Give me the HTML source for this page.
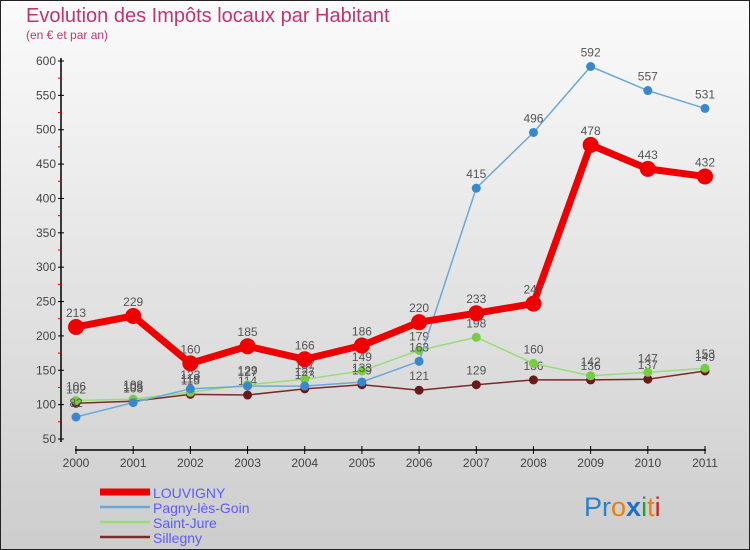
<!DOCTYPE html>
<html><head><meta charset="utf-8"><style>
body{margin:0}
svg{display:block;font-family:"Liberation Sans",sans-serif}
</style></head><body>
<svg id="c" width="750" height="550" xmlns="http://www.w3.org/2000/svg">
<defs><linearGradient id="bg" x1="0" y1="0" x2="0" y2="1"><stop offset="0" stop-color="#fbfbfb"/><stop offset="1" stop-color="#cdcdcd"/></linearGradient></defs>
<rect x="0.5" y="0.5" width="749" height="549" fill="url(#bg)" stroke="#222"/>
<text x="26" y="22" font-size="20" fill="#c2356a">Evolution des Impôts locaux par Habitant</text>
<text x="26" y="39" font-size="12" fill="#c2356a">(en € et par an)</text>
<g id="axes"></g><g id="series"></g><g id="legend"></g>
<text x="584" y="516" font-size="27"><tspan fill="#2a7fd0">Pr</tspan><tspan fill="#f07b10">o</tspan><tspan fill="#1a6fc8" font-weight="bold">x</tspan><tspan fill="#2a9a3a">i</tspan><tspan fill="#f07b10">t</tspan><tspan fill="#d02020">i</tspan></text>
</svg>
<script>
const years=[2000,2001,2002,2003,2004,2005,2006,2007,2008,2009,2010,2011];
const yTicks=[50,100,150,200,250,300,350,400,450,500,550,600];
const louvigny=[213,229,160,185,166,186,220,233,247,478,443,432];
const pagny=[82,103,123,127,127,133,163,415,496,592,557,531];
const saintJure=[106,108,118,129,137,149,179,198,160,142,147,153];
const sillegny=[102,105,115,114,123,129,121,129,136,136,137,149];
const NS="http://www.w3.org/2000/svg";
const X=i=>76+i*(705-76)/11;
const Y=v=>439-(v-50)*(439-61)/550;
function mk(t,a,p){const e=document.createElementNS(NS,t);for(const k in a)e.setAttribute(k,a[k]);p.appendChild(e);return e;}
const ax=document.getElementById('axes');
const yl=mk('line',{x1:61,y1:58,x2:61,y2:442,stroke:'#000','stroke-width':1.5},ax);


yTicks.forEach((v,i)=>{
 mk('line',{x1:58,y1:Y(v),x2:64,y2:Y(v),stroke:'#000'},ax);
 if(i<yTicks.length-1)mk('line',{x1:58,y1:Y(v+25),x2:61,y2:Y(v+25),stroke:'#d00'},ax);
 const t=mk('text',{x:56,y:Y(v)+4,'text-anchor':'end','font-size':12,fill:'#444'},ax);t.textContent=v;
 
 
});
const xl=mk('line',{x1:75,y1:450,x2:706,y2:450,stroke:'#000','stroke-width':1.5},ax);


years.forEach((y,i)=>{
 mk('line',{x1:X(i),y1:446,x2:X(i),y2:454,stroke:'#000'},ax);
 const t=mk('text',{x:X(i),y:467,'text-anchor':'middle','font-size':12,fill:'#444'},ax);t.textContent=y;
 
 
});
const sg=document.getElementById('series');
const series=[
 {n:'sillegny',d:sillegny,c:'#7a2a2a',w:1.5,r:4.5,f:'#6a1a1a',lab:'Sillegny'},
 {n:'saint-jure',d:saintJure,c:'#99dd77',w:1.5,r:4.5,f:'#77cc44',lab:'Saint-Jure'},
 {n:'pagny',d:pagny,c:'#6aa8d8',w:1.5,r:4.5,f:'#3a88cc',lab:'Pagny-lès-Goin'},
 {n:'louvigny',d:louvigny,c:'#ee0000',w:7,r:8,f:'#ee0000',lab:'LOUVIGNY'}];
series.forEach(s=>{
 const g=mk('g',{},sg);
 
 
 mk('polyline',{points:s.d.map((v,i)=>X(i)+','+Y(v)).join(' '),fill:'none',stroke:s.c,'stroke-width':s.w,'stroke-linejoin':'round'},g);
 s.d.forEach((v,i)=>{
  const p=mk('circle',{cx:X(i),cy:Y(v),r:s.r,fill:s.f},g);
  
  
  const t=mk('text',{x:X(i),y:Y(v)-10,'text-anchor':'middle','font-size':12,fill:'#555'},g);t.textContent=v;
  
  
 });
});
const lg=document.getElementById('legend');
[...series].reverse().forEach((s,i)=>{
 const y=492+i*15;
 const g=mk('g',{},lg);
 
 
 mk('line',{x1:100,y1:y,x2:150,y2:y,stroke:s.c,'stroke-width':i==0?7:2.5},g);
 const t=mk('text',{x:153,y:y+6,'font-size':14,fill:'#5b5bff'},g);t.textContent=s.lab;
});
</script>
</body></html>
